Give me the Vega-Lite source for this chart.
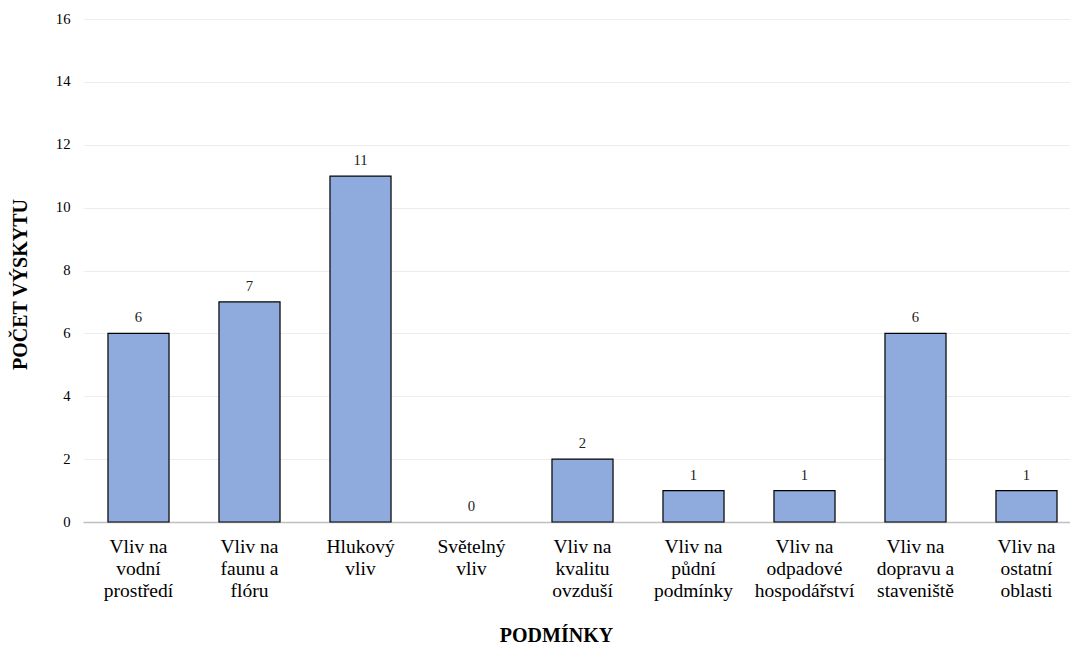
{
  "$schema": "https://vega.github.io/schema/vega-lite/v6.json",
  "autosize": "none",
  "width": 987,
  "height": 503,
  "padding": {"left": 83, "top": 19, "right": 0, "bottom": 126},
  "background": "white",
  "config": {
    "view": {"stroke": null},
    "font": "Liberation Serif, serif"
  },
  "data": {
    "values": [
      {"podminka": "Vliv na|vodní|prostředí", "pocet": 6},
      {"podminka": "Vliv na|faunu a|flóru", "pocet": 7},
      {"podminka": "Hlukový|vliv", "pocet": 11},
      {"podminka": "Světelný|vliv", "pocet": 0},
      {"podminka": "Vliv na|kvalitu|ovzduší", "pocet": 2},
      {"podminka": "Vliv na|půdní|podmínky", "pocet": 1},
      {"podminka": "Vliv na|odpadové|hospodářství", "pocet": 1},
      {"podminka": "Vliv na|dopravu a|staveniště", "pocet": 6},
      {"podminka": "Vliv na|ostatní|oblasti", "pocet": 1}
    ]
  },
  "encoding": {
    "x": {
      "field": "podminka",
      "type": "nominal",
      "sort": null,
      "scale": {"range": [0, 999], "paddingInner": 0.45, "paddingOuter": 0.225},
      "axis": {
        "title": "PODMÍNKY",
        "titleFont": "Liberation Serif, serif",
        "titleFontSize": 20,
        "titleFontWeight": "bold",
        "titleColor": "black",
        "titleX": 473,
        "titleY": 119,
        "titleAnchor": null,
        "titleAlign": "center",
        "titleBaseline": "alphabetic",
        "labelExpr": "split(datum.label, '|')",
        "labelFont": "Liberation Serif, serif",
        "labelFontSize": 19.5,
        "labelColor": "black",
        "labelLineHeight": 22.4,
        "labelAngle": 0,
        "labelPadding": 15,
        "labelBaseline": "top",
        "labelLimit": 0,
        "ticks": false,
        "domainColor": "#BFBFBF",
        "domainWidth": 1.5,
        "grid": false
      }
    },
    "y": {
      "field": "pocet",
      "type": "quantitative",
      "scale": {"domain": [0, 16], "nice": false},
      "axis": {
        "title": "POČET VÝSKYTU",
        "titleFont": "Liberation Serif, serif",
        "titleFontSize": 20,
        "titleFontWeight": "bold",
        "titleColor": "black",
        "titleX": -63,
        "titleY": 265,
        "titleAngle": -90,
        "titleAlign": "center",
        "titleBaseline": "middle",
        "values": [0, 2, 4, 6, 8, 10, 12, 14, 16],
        "labelFont": "Liberation Serif, serif",
        "labelFontSize": 14.7,
        "labelColor": "black",
        "labelPadding": 13,
        "ticks": false,
        "domain": false,
        "grid": true,
        "gridColor": "#EDEDED",
        "gridWidth": 1
      }
    }
  },
  "layer": [
    {
      "mark": {"type": "bar", "fill": "#8FAADC", "stroke": "black", "strokeWidth": 1.2},
      "encoding": {
        "strokeOpacity": {"condition": {"test": "datum.pocet <= 0", "value": 0}, "value": 1}
      }
    },
    {
      "mark": {"type": "text", "baseline": "alphabetic", "dy": -11, "fontSize": 14.7, "font": "Liberation Serif, serif", "color": "#222222"},
      "encoding": {"text": {"field": "pocet", "type": "quantitative"}}
    }
  ]
}
